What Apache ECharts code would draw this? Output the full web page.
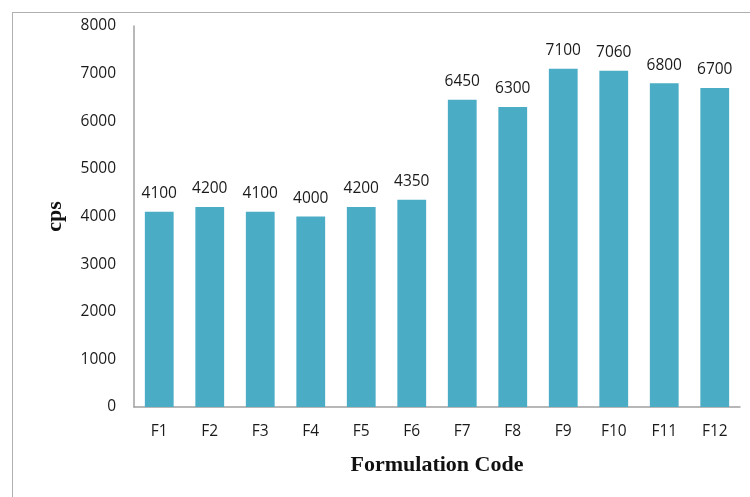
<!DOCTYPE html>
<html>
<head>
<meta charset="utf-8">
<script src="https://cdn.jsdelivr.net/npm/echarts@6/dist/echarts.min.js"></script>
<style>
  html, body { margin: 0; padding: 0; background: #fff; }
  #frame { position: absolute; left: 12px; top: 12px; width: 760px; height: 500px; border-left: 1px solid #b0b0b0; border-top: 1px solid #b0b0b0; }
  #chart { position: absolute; left: 0; top: 0; width: 750px; height: 497px; }
</style>
</head>
<body>
<div id="frame"></div>
<div id="chart"></div>
<script>
const categories = ['F1', 'F2', 'F3', 'F4', 'F5', 'F6', 'F7', 'F8', 'F9', 'F10', 'F11', 'F12']
const cpsValues = [4100, 4200, 4100, 4000, 4200, 4350, 6450, 6300, 7100, 7060, 6800, 6700]
const yTicks = [0, 1000, 2000, 3000, 4000, 5000, 6000, 7000, 8000]

const chart = echarts.init(document.getElementById('chart'))
const labelFont = '"Open Sans", "DejaVu Sans", sans-serif'
const titleFont = '"Liberation Serif", "DejaVu Serif", serif'

chart.setOption({
  animation: false,
  grid: { left: 134, right: 10, top: 26, bottom: 90 },
  xAxis: {
    type: 'category',
    data: categories,
    name: 'Formulation Code',
    nameLocation: 'middle',
    nameGap: 47,
    nameTextStyle: { fontFamily: titleFont, fontWeight: 'bold', fontSize: 22, color: '#111' },
    axisLine: { lineStyle: { color: '#a0a0a0', width: 1.5 } },
    axisTick: { show: false },
    axisLabel: { fontFamily: labelFont, fontSize: 15.5, color: '#1a1a1a', margin: 17 }
  },
  yAxis: {
    type: 'value',
    min: yTicks[0],
    max: yTicks[yTicks.length - 1],
    interval: 1000,
    name: 'cps',
    nameLocation: 'middle',
    nameGap: 68,
    nameRotate: 90,
    nameTextStyle: { fontFamily: titleFont, fontWeight: 'bold', fontSize: 22, color: '#111' },
    axisLine: { show: true, lineStyle: { color: '#a0a0a0', width: 1.5 } },
    axisTick: { show: false },
    splitLine: { show: false },
    axisLabel: { fontFamily: labelFont, fontSize: 15.5, color: '#1a1a1a', margin: 18, formatter: (v) => String(v) }
  },
  series: [{
    type: 'bar',
    data: cpsValues,
    barWidth: '57%',
    itemStyle: { color: '#4aacc5' },
    label: {
      show: true,
      position: 'top',
      distance: 10,
      fontFamily: labelFont,
      fontSize: 15.5,
      color: '#1a1a1a'
    }
  }]
})
</script>
</body>
</html>
